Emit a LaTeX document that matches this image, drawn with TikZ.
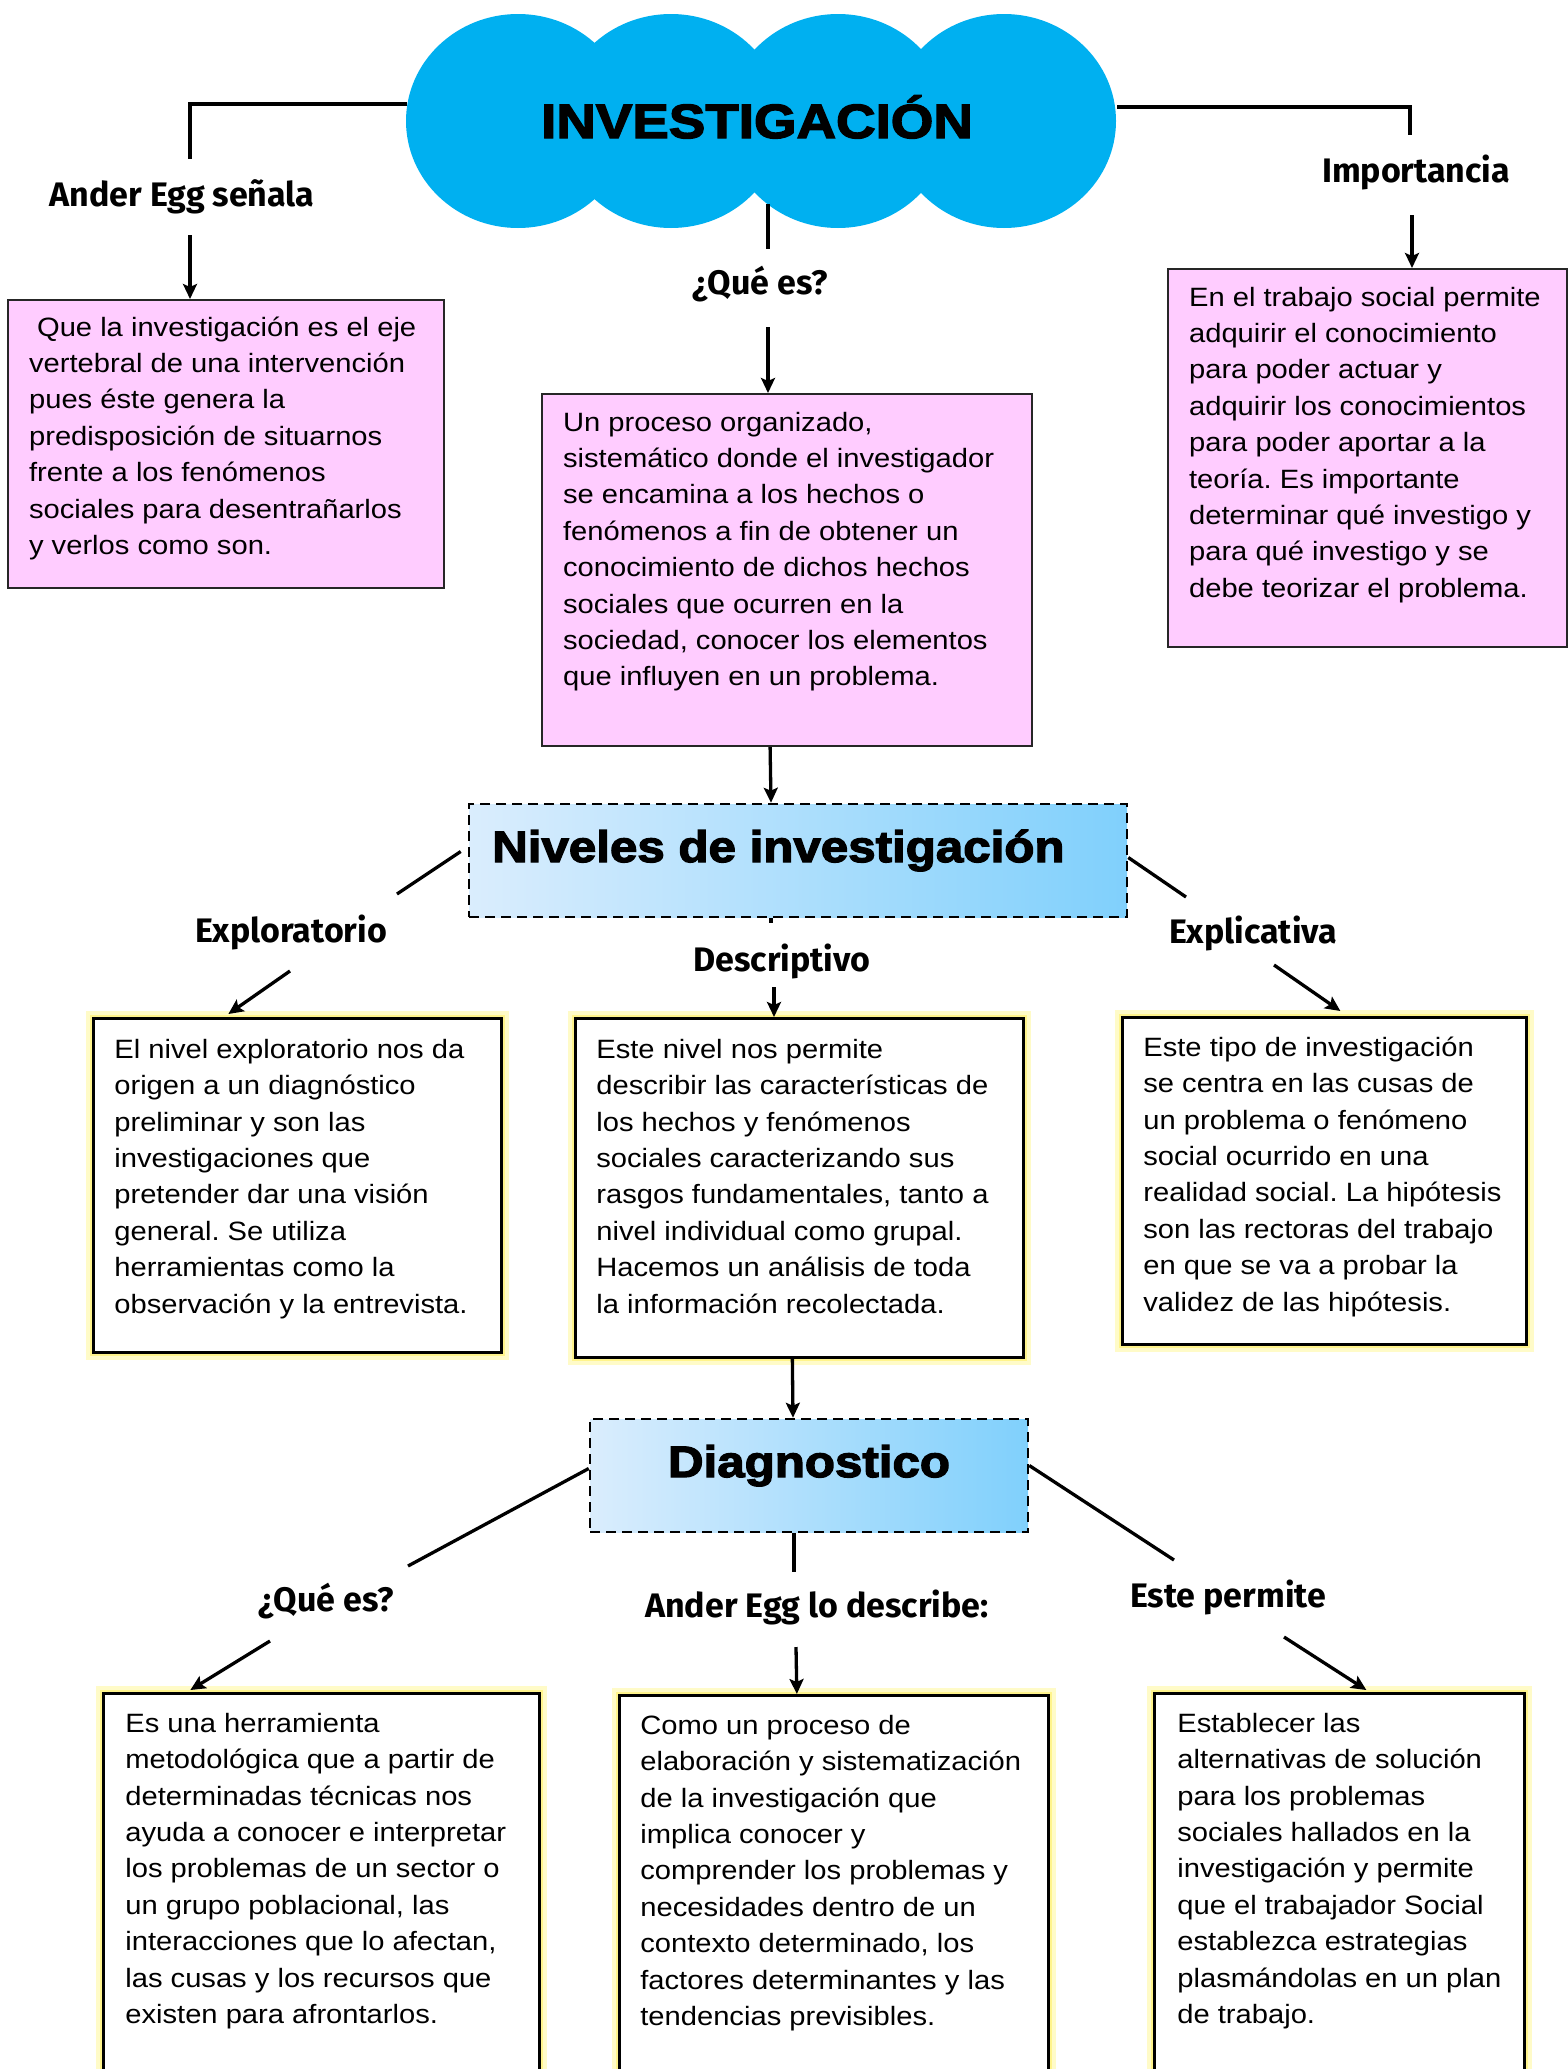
\documentclass[tikz,border=0pt]{standalone}
\usepackage{fontspec}
\setmainfont{Liberation Sans}
\frenchspacing
\newfontfamily\bodyfont{Liberation Sans}[FakeStretch=1.1]
\newfontfamily\headfont{Liberation Sans}[FakeStretch=1.12,BoldFeatures={FakeBold=3}]
\newfontfamily\titlefont{Liberation Sans}[FakeStretch=1.14,BoldFeatures={FakeBold=3}]
\newfontfamily\lblfont{Fira Sans}
\usetikzlibrary{arrows.meta,calc}
\definecolor{cloudblue}{RGB}{0,176,240}
\definecolor{pinkfill}{RGB}{255,204,255}
\definecolor{gradL}{RGB}{218,237,253}
\definecolor{gradR}{RGB}{128,208,252}
\definecolor{glowA}{RGB}{255,251,200}
\definecolor{glowB}{RGB}{255,244,140}
\newcommand{\boxtxt}[4]{\parbox[t][#2pt][t]{#1pt}{\bodyfont\frenchspacing\fontsize{26.5pt}{36.4pt}\selectfont\raggedright\rule{0pt}{#3pt}#4\par}}
\begin{document}
\begin{tikzpicture}[x=1pt,y=-1pt,
  conn/.style={draw=black,line width=3.3pt},
  arr/.style={conn,-{Stealth[length=15pt,width=14pt,inset=3pt]}},
  pinkbox/.style={draw=black!85,line width=2.2pt,fill=pinkfill,anchor=north west,inner ysep=0pt},
  glowbox/.style={draw=black,line width=2.7pt,fill=white,anchor=north west,inner ysep=0pt,
    preaction={draw=glowA,line width=15pt},preaction={draw=glowB,line width=7pt}},
  headbox/.style={draw=black,line width=2.5pt,dash pattern=on 10pt off 6pt,left color=gradL,right color=gradR,inner sep=0pt},
  headtxt/.style={font=\headfont\bfseries\fontsize{44pt}{50pt}\selectfont,inner sep=0pt},
  lbl/.style={font=\lblfont\bfseries\fontsize{34pt}{40pt}\selectfont,anchor=base,inner sep=0pt},
]
\useasboundingbox (0,0) rectangle (1567,2069);
\fill[white] (0,0) rectangle (1567,2069);

% cloud
\fill[cloudblue] (518,121) ellipse [x radius=112pt, y radius=107pt];
\fill[cloudblue] (671,121) ellipse [x radius=112pt, y radius=107pt];
\fill[cloudblue] (838,121) ellipse [x radius=112pt, y radius=107pt];
\fill[cloudblue] (1004,121) ellipse [x radius=112pt, y radius=107pt];
\node[minimum width=710pt,minimum height=214pt,inner sep=0pt] (cloud) at (762,121) {};
\node[font=\titlefont\bfseries\fontsize{48pt}{55pt}\selectfont,anchor=base,inner sep=0pt] (ttl) at (757,138) {INVESTIGACIÓN};

% top labels
\node[lbl] (l1) at (182,206) {Ander Egg señala};
\node[lbl] (l2) at (760,294) {¿Qué es?};
\node[lbl] (l3) at (1416,182) {Importancia};
\coordinate (l1in) at (190,159);
\coordinate (l1out) at (190,235);
\coordinate (l2in) at (768,249);
\coordinate (l2out) at (768,327);
\coordinate (l3in) at (1410,135);
\coordinate (l3out) at (1412,215);

% top boxes
\node[pinkbox,inner xsep=21pt] (b1) at (7,299) {\boxtxt{394}{288}{36}{\hspace*{8pt}Que la investigación es el eje\\vertebral de una intervención\\pues éste genera la\\predisposición de situarnos\\frente a los fenómenos\\sociales para desentrañarlos\\y verlos como son.}};
\node[pinkbox,inner xsep=21pt] (b2) at (541,393) {\boxtxt{448}{352}{37}{Un proceso organizado,\\sistemático donde el investigador\\se encamina a los hechos o\\fenómenos a fin de obtener un\\conocimiento de dichos hechos\\sociales que ocurren en la\\sociedad, conocer los elementos\\que influyen en un problema.}};
\node[pinkbox,inner xsep=21pt] (b3) at (1167,268) {\boxtxt{357}{378}{37}{En el trabajo social permite\\adquirir el conocimiento\\para poder actuar y\\adquirir los conocimientos\\para poder aportar a la\\teoría. Es importante\\determinar qué investigo y\\para qué investigo y se\\debe teorizar el problema.}};

\draw[conn] ($(cloud.west)+(0,-17)$) -| (l1in);
\draw[arr] (l1out) -- (l1out |- b1.north);
\draw[conn] ($(cloud.south)+(6,-24)$) -- (l2in);
\draw[arr] (l2out) -- (l2out |- b2.north);
\draw[conn] ($(cloud.east)+(0,-14)$) -| (l3in);
\draw[arr] (l3out) -- (l3out |- b3.north);

% niveles
\node[headbox,minimum width=658pt,minimum height=113pt] (niv) at (798,860.5) {};
\node[headtxt,anchor=base west] (nivt) at (492,862) {Niveles de investigación};
\draw[arr] ($(b2.south)+(-17,0)$) -- ($(niv.north)+(-27,0)$);

\node[lbl] (lexp) at (291,942) {Exploratorio};
\node[lbl] (ldes) at (782,971) {Descriptivo};
\node[lbl] (lexpl) at (1253,943) {Explicativa};
\coordinate (lexpin) at (397,894);
\coordinate (lexpout) at (290,971);
\coordinate (ldesin) at (771,923);
\coordinate (ldesout) at (774,987);
\coordinate (lexplin) at (1186,897);
\coordinate (lexplout) at (1274,965);

\node[glowbox,inner xsep=21pt] (bexp) at (92,1017) {\boxtxt{366}{334}{40}{El nivel exploratorio nos da\\origen a un diagnóstico\\preliminar y son las\\investigaciones que\\pretender dar una visión\\general. Se utiliza\\herramientas como la\\observación y la entrevista.}};
\node[glowbox,inner xsep=21pt] (bdes) at (574,1017) {\boxtxt{406}{339}{40}{Este nivel nos permite\\describir las características de\\los hechos y fenómenos\\sociales caracterizando sus\\rasgos fundamentales, tanto a\\nivel individual como grupal.\\Hacemos un análisis de toda\\la información recolectada.}};
\node[glowbox,inner xsep=21pt] (bexpl) at (1121,1016) {\boxtxt{362}{327}{39}{Este tipo de investigación\\se centra en las cusas de\\un problema o fenómeno\\social ocurrido en una\\realidad social. La hipótesis\\son las rectoras del trabajo\\en que se va a probar la\\validez de las hipótesis.}};

\draw[conn] ($(niv.west)+(-7,-9)$) -- (lexpin);
\draw[arr] (lexpout) -- ($(bexp.north)+(-69,-3)$);
\draw[conn] (niv.south -| ldesin) -- (ldesin);
\draw[arr] (ldesout) -- (ldesout |- bdes.north);
\draw[conn] ($(niv.east)+(0,-3)$) -- (lexplin);
\draw[arr] (lexplout) -- ($(bexpl.north)+(16,-5)$);

% diagnostico
\node[headbox,minimum width=438pt,minimum height=113pt] (diag) at (809,1475.5) {};
\node[headtxt,anchor=base] (diagt) at (809,1477) {Diagnostico};
\draw[arr] ($(bdes.south)+(-7,0)$) -- ($(diag.north)+(-16,0)$);

\node[lbl] (lq2) at (326,1611) {¿Qué es?};
\node[lbl] (lang) at (817,1617) {Ander Egg lo describe:};
\node[lbl] (lper) at (1228,1607) {Este permite};
\coordinate (lq2in) at (408,1566);
\coordinate (lq2out) at (270,1641);
\coordinate (langin) at (794,1572);
\coordinate (langout) at (796,1647);
\coordinate (lperin) at (1174,1560);
\coordinate (lperout) at (1284,1637);

\node[glowbox,inner xsep=22pt] (bq2) at (102,1692) {\boxtxt{392}{420}{39}{Es una herramienta\\metodológica que a partir de\\determinadas técnicas nos\\ayuda a conocer e interpretar\\los problemas de un sector o\\un grupo poblacional, las\\interacciones que lo afectan,\\las cusas y los recursos que\\existen para afrontarlos.}};
\node[glowbox,inner xsep=21pt] (bang) at (618,1694) {\boxtxt{387}{420}{39}{Como un proceso de\\elaboración y sistematización\\de la investigación que\\implica conocer y\\comprender los problemas y\\necesidades dentro de un\\contexto determinado, los\\factores determinantes y las\\tendencias previsibles.}};
\node[glowbox,inner xsep=23pt] (bper) at (1153,1692) {\boxtxt{324}{420}{39}{Establecer las\\alternativas de solución\\para los problemas\\sociales hallados en la\\investigación y permite\\que el trabajador Social\\establezca estrategias\\plasmándolas en un plan\\de trabajo.}};

\draw[conn] ($(diag.west)+(0,-7)$) -- (lq2in);
\draw[arr] (lq2out) -- ($(bq2.north)+(-131,-2)$);
\draw[conn] ($(diag.south)+(-15,0)$) -- (langin);
\draw[arr] (langout) -- ($(bang.north)+(-37,0)$);
\draw[conn] ($(diag.east)+(0,-10)$) -- (lperin);
\draw[arr] (lperout) -- ($(bper.north)+(27,-2)$);
\end{tikzpicture}
\end{document}
